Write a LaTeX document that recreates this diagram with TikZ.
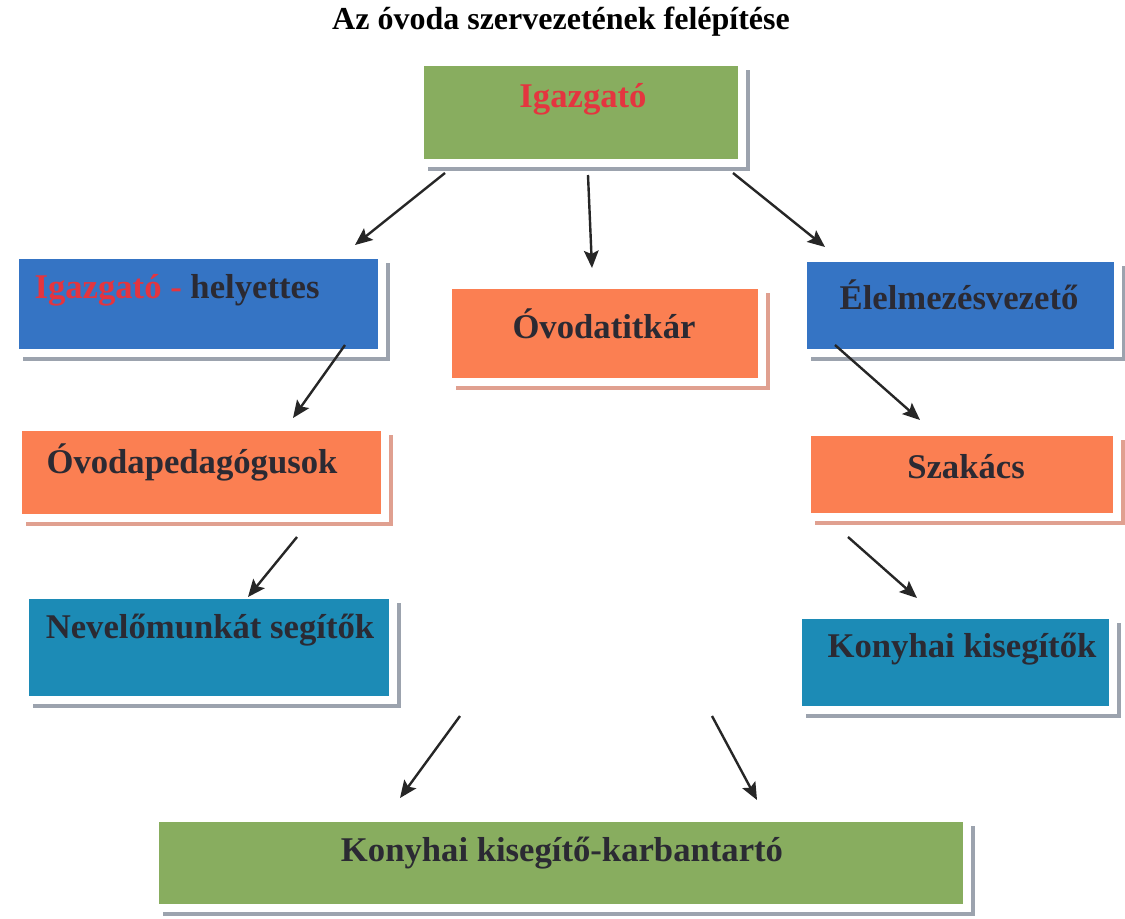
\documentclass[tikz,border=0pt]{standalone}
\usepackage{fontspec}
\setmainfont{Liberation Serif}
\newfontfamily\boxfont{Liberation Serif}
\usetikzlibrary{arrows.meta}
\definecolor{cgreen}{HTML}{88AD5F}
\definecolor{cblue}{HTML}{3574C4}
\definecolor{corange}{HTML}{FB7F52}
\definecolor{cteal}{HTML}{1C8BB6}
\definecolor{ctext}{HTML}{2B2A33}
\definecolor{cred}{HTML}{E4353F}
\definecolor{cshgray}{HTML}{9CA3AE}
\definecolor{cshsalmon}{HTML}{E0A090}
\begin{document}
\begin{tikzpicture}[x=0.75pt,y=-0.75pt,
  box/.style={rectangle, inner sep=0pt, draw=white, line width=6pt,
    preaction={fill=#1, draw=none, transform canvas={shift={(6pt,-6pt)}}}},
  box/.default=cshgray,
  lbl/.style={inner sep=0pt, anchor=center, text=ctext, font=\boxfont\bfseries\fontsize{26}{30}\selectfont},
  arr/.style={draw=black!85, line width=1.8pt, -{Stealth[length=13pt,width=11pt,inset=2.5pt]}}]
\useasboundingbox (0,0) rectangle (1125,918);
\fill[white] (0,0) rectangle (1125,918);

\node[inner sep=0pt, font=\boxfont\bfseries\fontsize{24}{28}\selectfont] (title) at (561,22) {Az óvoda szervezetének felépítése};

% boxes
\node[box, fill=cgreen, minimum width=241.5pt, minimum height=75.75pt] (igaz) at (581,112.5) {};
\node[box, fill=cblue, minimum width=275.25pt, minimum height=73.5pt] (hely) at (198.5,304) {};
\node[box=cshsalmon, fill=corange, minimum width=235.5pt, minimum height=72.75pt] (titk) at (605,333.5) {};
\node[box, fill=cblue, minimum width=236.25pt, minimum height=71.25pt] (elel) at (960.5,305.5) {};
\node[box=cshsalmon, fill=corange, minimum width=275.25pt, minimum height=68.25pt] (ped) at (201.5,472.5) {};
\node[box=cshsalmon, fill=corange, minimum width=232.5pt, minimum height=63.75pt] (szak) at (962,474.5) {};
\node[box, fill=cteal, minimum width=276pt, minimum height=78.75pt] (nev) at (209,647.5) {};
\node[box, fill=cteal, minimum width=236.25pt, minimum height=71.25pt] (konyha) at (955.5,662.5) {};
\node[box, fill=cgreen, minimum width=609pt, minimum height=67.5pt] (karb) at (561,863) {};

% labels
\node[lbl, text=cred] (t-igaz) at (583,99) {Igazgató};
\node[lbl] (t-hely) at (177,290) {\textcolor{cred}{Igazgató -} helyettes};
\node[lbl] (t-titk) at (604,324) {Óvodatitkár};
\node[lbl] (t-elel) at (959,295) {Élelmezésvezető};
\node[lbl] (t-ped) at (192,462) {Óvodapedagógusok};
\node[lbl] (t-szak) at (966,467) {Szakács};
\node[lbl] (t-nev) at (210,630) {Nevelőmunkát segítők};
\node[lbl] (t-konyha) at (962,649) {Konyhai kisegítők};
\node[lbl] (t-karb) at (562,853) {Konyhai kisegítő-karbantartó};

% arrow end points
\coordinate (a1s) at (445,173); \coordinate (a1e) at (355,245);
\coordinate (a2s) at (588,175); \coordinate (a2e) at (592,268);
\coordinate (a3s) at (733,173); \coordinate (a3e) at (825,247);
\coordinate (a4s) at (345,345); \coordinate (a4e) at (293,418);
\coordinate (a5s) at (835,345); \coordinate (a5e) at (920,420);
\coordinate (a6s) at (297,537); \coordinate (a6e) at (248,597);
\coordinate (a7s) at (848,537); \coordinate (a7e) at (917,598);
\coordinate (a8s) at (460,716); \coordinate (a8e) at (400,798);
\coordinate (a9s) at (712,716); \coordinate (a9e) at (757,800);

\foreach \i in {1,...,9} \draw[arr] (a\i s) -- (a\i e);
\end{tikzpicture}
\end{document}
